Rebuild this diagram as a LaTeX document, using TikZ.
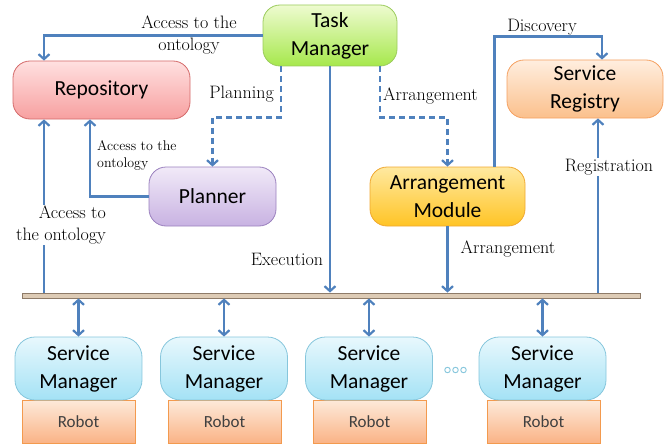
\documentclass[tikz,border=0pt]{standalone}
\usepackage{fontspec}
\setsansfont{Carlito}
\usetikzlibrary{arrows.meta}
\definecolor{arrc}{HTML}{4F81BD}
\definecolor{tmTop}{HTML}{EEFBD0}\definecolor{tmBot}{HTML}{A6E84C}\definecolor{tmBd}{HTML}{9BCB5C}
\definecolor{rpTop}{HTML}{FFE0E0}\definecolor{rpBot}{HTML}{F7A0A0}\definecolor{rpBd}{HTML}{D46A6A}
\definecolor{srTop}{HTML}{FFEEDF}\definecolor{srBot}{HTML}{FBC08C}\definecolor{srBd}{HTML}{F5A060}
\definecolor{plTop}{HTML}{F1EAF8}\definecolor{plBot}{HTML}{C8B2E2}\definecolor{plBd}{HTML}{9A80BE}
\definecolor{amTop}{HTML}{FFE9A0}\definecolor{amBot}{HTML}{FFC425}\definecolor{amBd}{HTML}{F0A830}
\definecolor{smTop}{HTML}{E8F8FD}\definecolor{smBot}{HTML}{A4E2F5}\definecolor{smBd}{HTML}{86C6DC}
\definecolor{rbTop}{HTML}{FDEADA}\definecolor{rbBot}{HTML}{FAB386}\definecolor{rbBd}{HTML}{F39A4E}
\definecolor{busFill}{HTML}{DDCBB5}\definecolor{busBd}{HTML}{8E7B68}
\tikzset{
  box/.style={rectangle, rounded corners=17pt, align=center, inner sep=0pt,
    font=\sffamily\fontsize{21.5}{28}\selectfont, text=black, line width=0.8pt},
  robotbox/.style={rectangle, align=center, inner sep=0pt, minimum width=113pt, minimum height=43pt,
    top color=rbTop, bottom color=rbBot, draw=rbBd, line width=0.8pt,
    font=\sffamily\fontsize{17}{20}\selectfont, text=black!75},
  smbox/.style={box, minimum width=127pt, minimum height=63pt, rounded corners=20pt,
    top color=smTop, bottom color=smBot, draw=smBd},
  arr/.style={draw=arrc, line width=2.2pt, -{Straight Barb[length=5pt,width=11pt]}},
  darr/.style={draw=arrc, line width=2.2pt, {Straight Barb[length=5pt,width=11pt]}-{Straight Barb[length=5pt,width=11pt]}},
  dsh/.style={dash pattern=on 6pt off 4pt},
  lbl/.style={font=\fontsize{18}{22}\selectfont, inner sep=1pt, align=center},
  slbl/.style={font=\fontsize{14}{17}\selectfont, inner sep=1pt, align=left},
}
\begin{document}
\begin{tikzpicture}[x=1pt,y=-1pt]
\useasboundingbox (0,0) rectangle (667,444);
% main nodes
\node[box, minimum width=134pt, minimum height=61pt, top color=tmTop, bottom color=tmBot, draw=tmBd] (tm) at (330,35.5) {Task\\Manager};
\node[box, minimum width=177pt, minimum height=58pt, top color=rpTop, bottom color=rpBot, draw=rpBd] (repo) at (101.5,90) {Repository};
\node[box, minimum width=156pt, minimum height=58pt, top color=srTop, bottom color=srBot, draw=srBd] (sr) at (585,89) {Service\\Registry};
\node[box, minimum width=127pt, minimum height=59pt, top color=plTop, bottom color=plBot, draw=plBd] (pl) at (212.5,196.5) {Planner};
\node[box, minimum width=155pt, minimum height=59pt, top color=amTop, bottom color=amBot, draw=amBd] (am) at (447.5,196.5) {Arrangement\\Module};
\node[rectangle, minimum width=618pt, minimum height=5pt, inner sep=0pt, fill=busFill, draw=busBd, line width=0.8pt] (bus) at (331,295.5) {};
% service managers and robots
\node[robotbox] (r1) at (78.5,421.5) {Robot};
\node[robotbox] (r2) at (224.5,421.5) {Robot};
\node[robotbox] (r3) at (369.5,421.5) {Robot};
\node[robotbox] (r4) at (543.5,421.5) {Robot};
\node[smbox] (s1) at (78.5,368.5) {Service\\Manager};
\node[smbox] (s2) at (224,368.5) {Service\\Manager};
\node[smbox] (s3) at (369,368.5) {Service\\Manager};
\node[smbox] (s4) at (542.5,368.5) {Service\\Manager};
\foreach \i/\xx in {1/447.5,2/455.5,3/463.5}
  \node[circle, draw=smBd, line width=0.9pt, minimum size=5.5pt, inner sep=0pt] (dot\i) at (\xx,370) {};
% connectors
\draw[arr] (tm.west) -| ([xshift=-57.5pt]repo.north);
\draw[arr, dsh] ([xshift=-49pt]tm.south) -- ++(0,51) -| (pl.north);
\draw[arr, dsh] ([xshift=50pt]tm.south) -- ++(0,51) -| (am.north);
\draw[arr] (tm.south) -- (tm.south |- bus.north);
\draw[arr] ([xshift=47pt]am.north) -- ++(0,-130) -| ([xshift=17pt]sr.north);
\draw[arr] (am.south) -- (am.south |- bus.north);
\draw[arr] ([xshift=13pt]sr.south |- bus.north) -- ([xshift=13pt]sr.south);
\draw[arr] (pl.west) -| ([xshift=-11.5pt]repo.south);
\draw[arr] ([xshift=-57.5pt]repo.south |- bus.north) -- ([xshift=-57.5pt]repo.south);
\foreach \s in {s1,s2,s3,s4}
  \draw[darr] (bus.south -| \s.north) -- (\s.north);
% labels
\node[lbl] (l1) at (189,35) {Access to the\\ontology};
\node[lbl, anchor=east] (l2) at (275,94) {Planning};
\node[lbl, anchor=west] (l3) at (382,96) {Arrangement};
\node[lbl] (l4) at (287,259) {Execution};
\node[lbl] (l5) at (542,27) {Discovery};
\node[lbl] (l6) at (508,249) {Arrangement};
\node[lbl, fill=white] (l7) at (609,167) {Registration};
\node[slbl, anchor=west] (l8) at (96,155) {Access to the\\ontology};
\node[lbl, align=right, fill=white] (l9) at (61,225) {Access to\\the ontology};
\end{tikzpicture}
\end{document}
